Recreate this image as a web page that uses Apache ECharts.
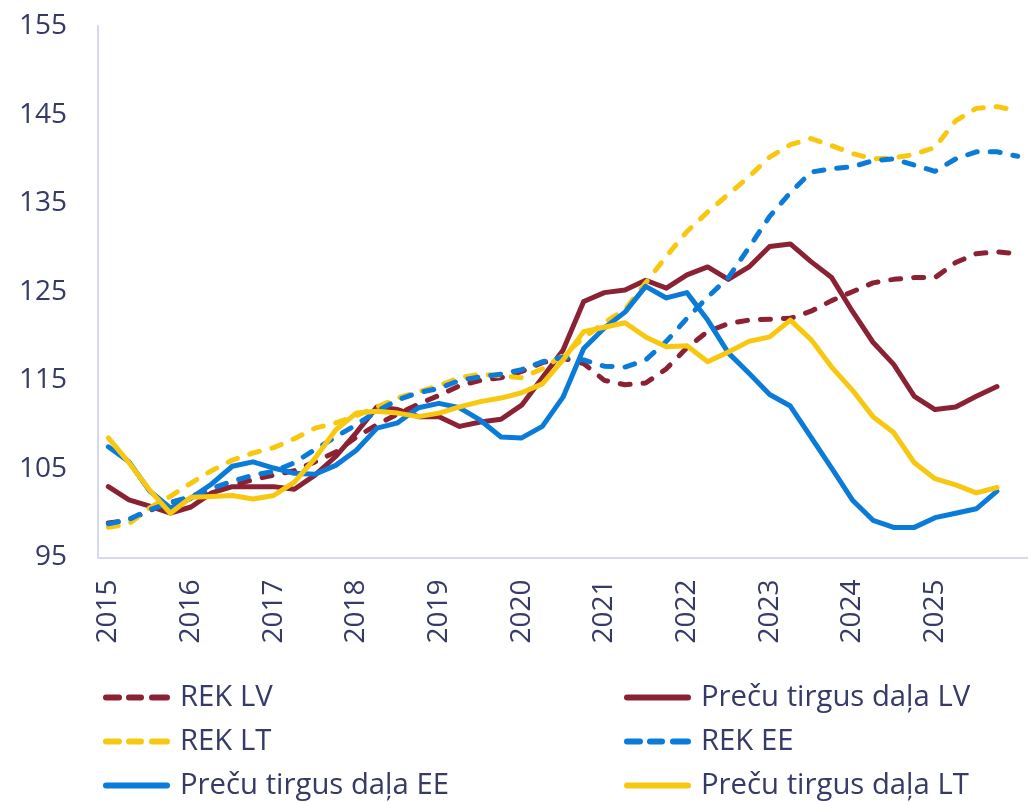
<!DOCTYPE html>
<html>
<head>
<meta charset="utf-8">
<script src="https://cdn.jsdelivr.net/npm/echarts@6/dist/echarts.min.js"></script>
<style>
html,body{margin:0;padding:0;background:#fff;}
#chart{width:1028px;height:802px;}
</style>
</head>
<body>
<div id="chart"></div>
<script>
const quarters = [
 '2015Q1','2015Q2','2015Q3','2015Q4','2016Q1','2016Q2','2016Q3','2016Q4',
 '2017Q1','2017Q2','2017Q3','2017Q4','2018Q1','2018Q2','2018Q3','2018Q4',
 '2019Q1','2019Q2','2019Q3','2019Q4','2020Q1','2020Q2','2020Q3','2020Q4',
 '2021Q1','2021Q2','2021Q3','2021Q4','2022Q1','2022Q2','2022Q3','2022Q4',
 '2023Q1','2023Q2','2023Q3','2023Q4','2024Q1','2024Q2','2024Q3','2024Q4',
 '2025Q1','2025Q2','2025Q3','2025Q4','2026Q1'
];
const yearLabels = ['2015','2016','2017','2018','2019','2020','2021','2022','2023','2024','2025'];

const rekLV = [98.9, 99.2, 100.3, 101.2, 101.8, 102.4, 103.1, 103.8, 104.3, 104.8, 105.8, 106.9, 108.6, 110.0, 111.2, 112.3, 113.3, 114.4, 115.0, 115.3, 116.0, 117.0, 117.5, 116.9, 115.0, 114.5, 114.7, 116.3, 118.7, 120.5, 121.4, 121.8, 121.9, 122.0, 122.8, 124.0, 125.0, 126.0, 126.4, 126.6, 126.6, 128.3, 129.3, 129.5, 129.3];
const precuLV = [103.0, 101.5, 100.8, 100.0, 100.7, 102.3, 103.0, 103.0, 103.0, 102.7, 104.3, 106.4, 109.1, 112.0, 111.7, 110.9, 110.9, 109.8, 110.3, 110.6, 112.2, 115.3, 118.4, 123.9, 124.9, 125.2, 126.3, 125.4, 126.9, 127.8, 126.4, 127.8, 130.1, 130.4, 128.4, 126.6, 122.8, 119.3, 116.8, 113.2, 111.7, 112.0, 113.2, 114.3];
const rekLT = [98.4, 98.8, 100.6, 101.9, 103.4, 104.8, 106.0, 106.8, 107.4, 108.4, 109.6, 110.2, 111.0, 112.0, 113.0, 113.7, 114.4, 115.3, 115.7, 115.5, 115.3, 116.3, 117.8, 119.8, 121.5, 123.0, 126.0, 129.0, 131.8, 134.0, 136.0, 138.0, 140.2, 141.6, 142.3, 141.5, 140.6, 140.0, 140.1, 140.5, 141.3, 144.3, 145.7, 145.9, 145.4];
const rekEE = [98.8, 99.3, 100.4, 101.2, 101.9, 102.8, 103.6, 104.3, 104.7, 105.7, 107.2, 108.6, 110.0, 111.5, 112.8, 113.6, 114.1, 115.0, 115.4, 115.7, 116.2, 117.1, 117.6, 117.3, 116.6, 116.5, 117.3, 119.4, 122.0, 124.4, 126.6, 130.0, 133.5, 136.2, 138.5, 138.9, 139.1, 139.8, 140.0, 139.3, 138.6, 140.0, 140.8, 140.8, 140.3];
const precuEE = [107.5, 105.8, 102.5, 100.6, 101.7, 103.3, 105.3, 105.8, 105.1, 104.5, 104.4, 105.4, 107.1, 109.6, 110.2, 111.9, 112.4, 111.9, 110.5, 108.6, 108.5, 109.8, 113.1, 118.6, 120.9, 122.7, 125.6, 124.3, 124.9, 121.8, 118.1, 115.8, 113.4, 112.1, 108.6, 105.1, 101.5, 99.2, 98.4, 98.4, 99.5, 100.0, 100.5, 102.5];
const precuLT = [108.5, 105.7, 102.6, 100.0, 101.8, 101.9, 102.0, 101.6, 102.0, 103.5, 106.2, 109.4, 111.3, 111.5, 111.3, 110.9, 111.3, 112.0, 112.6, 113.0, 113.6, 114.6, 117.3, 120.5, 121.0, 121.5, 119.9, 118.8, 118.9, 117.1, 118.2, 119.4, 119.9, 121.8, 119.6, 116.5, 113.9, 110.9, 109.1, 105.7, 103.9, 103.2, 102.3, 102.9];

const names = ['REK LV','Preču tirgus daļa LV','REK LT','REK EE','Preču tirgus daļa EE','Preču tirgus daļa LT'];
const MAROON = '#8B2234', YELLOW = '#F8C810', BLUE = '#0A7BD9';
const TXT = '#363a66';
const FONT = '"Open Sans", "Noto Sans", sans-serif';
const DASH = [10, 13];

const ICON_DASH = 'path://M3,0h13a3,3 0 0 1 0,6h-13a3,3 0 0 1 0,-6z M26,0h12a3,3 0 0 1 0,6h-12a3,3 0 0 1 0,-6z M49,0h15a3,3 0 0 1 0,6h-15a3,3 0 0 1 0,-6z';
const ICON_SOLID = 'path://M3,0h61a3,3 0 0 1 0,6h-61a3,3 0 0 1 0,-6z';

function mk(name, data, color, dashed) {
  return {
    name: name, type: 'line', data: data, symbol: 'none', silent: true,
    lineStyle: { color: color, width: 5, type: dashed ? DASH : 'solid', cap: 'round', join: 'round' },
    itemStyle: { color: color }
  };
}
function legItem(name, dashed) {
  return { name: name, icon: dashed ? ICON_DASH : ICON_SOLID };
}

const legendBase = {
  orient: 'vertical', top: 683, padding: 0,
  itemWidth: 67, itemHeight: 6, itemGap: 15,
  textStyle: { fontSize: 29.3, lineHeight: 29, color: TXT, fontFamily: FONT, padding: [0, 0, 0, 5] }
};

const chart = echarts.init(document.getElementById('chart'), null, { renderer: 'canvas' });
chart.setOption({
  animation: false,
  backgroundColor: '#fff',
  textStyle: { fontFamily: FONT },
  grid: { left: 98, right: -5, top: 26, bottom: 244.5, containLabel: false },
  xAxis: {
    type: 'category', data: quarters, boundaryGap: true,
    axisLine: { show: true, lineStyle: { color: '#d7daee', width: 2 } },
    axisTick: { show: false },
    axisLabel: {
      interval: 0, rotate: 90, margin: 22, fontSize: 28, color: TXT, fontFamily: FONT,
      formatter: function (v) {
        const y = v.slice(0, 4);
        return (v.endsWith('Q1') && yearLabels.indexOf(y) >= 0) ? y : '';
      }
    },
    splitLine: { show: false }
  },
  yAxis: {
    type: 'value', min: 95, max: 155, interval: 10,
    axisLine: { show: true, lineStyle: { color: '#d7daee', width: 2 } },
    axisTick: { show: false },
    axisLabel: { margin: 31, fontSize: 28, color: TXT, fontFamily: FONT },
    splitLine: { show: false }
  },
  legend: [
    Object.assign({}, legendBase, {
      left: 103,
      data: [legItem(names[0], true), legItem(names[2], true), legItem(names[4], false)]
    }),
    Object.assign({}, legendBase, {
      left: 624,
      data: [legItem(names[1], false), legItem(names[3], true), legItem(names[5], false)]
    })
  ],
  series: [
    mk(names[0], rekLV, MAROON, true),
    mk(names[1], precuLV, MAROON, false),
    mk(names[2], rekLT, YELLOW, true),
    mk(names[3], rekEE, BLUE, true),
    mk(names[4], precuEE, BLUE, false),
    mk(names[5], precuLT, YELLOW, false)
  ]
});
</script>
</body>
</html>
